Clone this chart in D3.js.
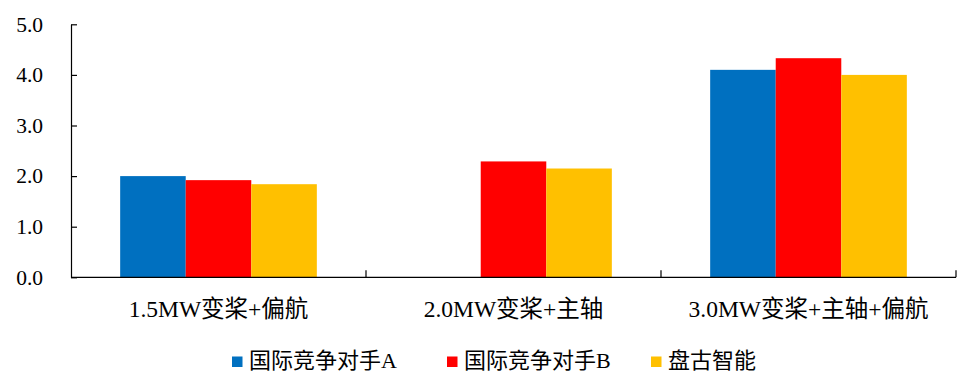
<!DOCTYPE html>
<html>
<head>
<meta charset="utf-8">
<script src="https://cdn.jsdelivr.net/npm/d3@7/dist/d3.min.js"></script>
<style>
  html, body { margin: 0; padding: 0; background: #fff; }
  svg { display: block; }
  text { font-family: "Liberation Serif", "Times New Roman", "Noto Sans CJK SC", serif; fill: #000; }
</style>
</head>
<body>
<svg id="chart" width="960" height="372"></svg>
<script>
// Categories, series and axis ticks
const categories = ["1.5MW变桨+偏航", "2.0MW变桨+主轴", "3.0MW变桨+主轴+偏航"];
const seriesNames = ["国际竞争对手A", "国际竞争对手B", "盘古智能"];
const seriesColors = ["#0070C0", "#FF0000", "#FFC000"];
const valuesA = [2.0, null, 4.10];
const valuesB = [1.92, 2.29, 4.33];
const valuesPangu = [1.84, 2.15, 4.0];
const yTicks = [0, 1, 2, 3, 4, 5];

const seriesValues = [valuesA, valuesB, valuesPangu];

const svg = d3.select("#chart");
const margin = { left: 71, right: 4, top: 24.3, bottom: 94.7 };
const width = 960, height = 372;
const plotBottom = height - margin.bottom;

const x = d3.scaleBand()
  .domain(categories)
  .range([margin.left, width - margin.right])
  .paddingInner(0)
  .paddingOuter(0);

// Each group holds three touching bars with a gap of 1.5 bar widths between groups
const inner = d3.scaleBand()
  .domain(d3.range(seriesNames.length))
  .range([0, x.bandwidth()])
  .paddingInner(0)
  .paddingOuter(0.75);

const y = d3.scaleLinear().domain([0, 5]).range([plotBottom, margin.top]);

// Bars
const groups = svg.append("g").selectAll("g")
  .data(categories)
  .join("g")
  .attr("transform", d => `translate(${x(d)},0)`);

groups.selectAll("rect")
  .data((c, ci) => seriesValues.map((vals, si) => ({ si, v: vals[ci] })).filter(d => d.v != null))
  .join("rect")
  .attr("x", d => inner(d.si))
  .attr("width", inner.bandwidth())
  .attr("y", d => y(d.v))
  .attr("height", d => y(0) - y(d.v))
  .attr("fill", d => seriesColors[d.si]);

// Y axis with ticks pointing into the plot
const yAxis = svg.append("g")
  .attr("transform", `translate(${margin.left},0)`)
  .call(d3.axisLeft(y).tickValues(yTicks).tickFormat(d3.format(".1f")).tickSizeInner(-6).tickSizeOuter(0).tickPadding(28));
yAxis.select(".domain").attr("stroke", "#000").attr("stroke-width", 1.2);
yAxis.selectAll(".tick line").attr("stroke", "#000").attr("stroke-width", 1.2);
yAxis.selectAll(".tick text")
  .attr("font-size", 21.5)
  .attr("font-family", "Liberation Serif, serif")
  .attr("fill", "#000");

// X axis baseline with boundary ticks between categories
const xAxisG = svg.append("g");
xAxisG.append("line")
  .attr("x1", margin.left).attr("x2", width - margin.right)
  .attr("y1", y(0)).attr("y2", y(0))
  .attr("stroke", "#000").attr("stroke-width", 1.2);
const boundaries = categories.map(c => x(c)).concat([x(categories[categories.length - 1]) + x.bandwidth()]).slice(1);
xAxisG.selectAll("line.bt")
  .data(boundaries)
  .join("line")
  .attr("class", "bt")
  .attr("x1", d => d).attr("x2", d => d)
  .attr("y1", y(0)).attr("y2", y(0) - 7)
  .attr("stroke", "#000").attr("stroke-width", 1.2);
xAxisG.selectAll("text")
  .data(categories)
  .join("text")
  .attr("x", d => x(d) + x.bandwidth() / 2)
  .attr("y", 317)
  .attr("text-anchor", "middle")
  .attr("font-size", 23.5)
  .text(d => d);

// Legend
const legendX = [232, 447, 651];
const legend = svg.append("g").selectAll("g")
  .data(seriesNames)
  .join("g")
  .attr("transform", (d, i) => `translate(${legendX[i]},0)`);
legend.append("rect")
  .attr("x", 0).attr("y", 356.5)
  .attr("width", 10.5).attr("height", 10.5)
  .attr("fill", (d, i) => seriesColors[i]);
legend.append("text")
  .attr("x", 17).attr("y", 368)
  .attr("font-size", 22)
  .text(d => d);
</script>
</body>
</html>
